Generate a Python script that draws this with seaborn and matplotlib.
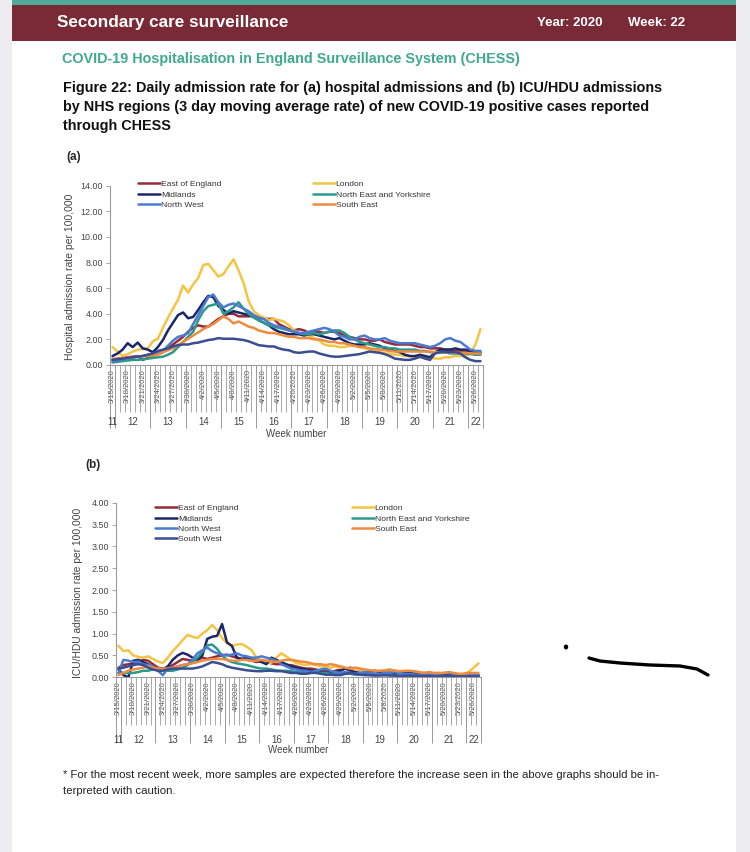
import numpy as np
import pandas as pd
import seaborn as sns
import matplotlib.pyplot as plt
from matplotlib.lines import Line2D
from matplotlib.patches import Rectangle, Circle
from matplotlib.ticker import FormatStrFormatter

W, H = 750, 852

# Data ########################################################################

dates = pd.date_range("2020-03-15", "2020-05-27", freq="D")
date_labels = [f"{d.month}/{d.day}/{d.year}" for d in dates]
week_of_day = list(dates.isocalendar().week.astype(int))

regions = ["East of England", "London", "Midlands", "North East and Yorkshire",
           "North West", "South East", "South West"]
colours = {"East of England": "#952c3a", "London": "#f5c443", "Midlands": "#1c2768",
           "North East and Yorkshire": "#2a9a8b", "North West": "#4c7ad2",
           "South East": "#ee8b3e", "South West": "#3b4d92"}

# (a) hospital admission rate per 100,000
hosp_eoe = [0.40, 0.50, 0.55, 0.60, 0.65, 0.70, 0.40, 0.55, 0.70, 0.85,
            1.00, 1.30, 1.60, 1.90, 2.20, 2.60, 2.90, 3.10, 3.00, 3.00,
            3.30, 3.60, 3.80, 4.00, 4.00, 3.80, 3.80, 3.80, 3.80, 3.70,
            3.60, 3.60, 3.60, 3.20, 3.00, 2.80, 2.70, 2.80, 2.70, 2.50,
            2.60, 2.60, 2.50, 2.60, 2.60, 2.50, 2.30, 2.20, 2.10, 2.00,
            2.00, 1.90, 1.90, 2.00, 1.80, 1.70, 1.60, 1.60, 1.60, 1.60,
            1.50, 1.40, 1.40, 1.30, 1.30, 1.30, 1.20, 1.20, 1.10, 1.10,
            1.00, 1.00, 1.00, 1.00]
hosp_lon = [1.40, 1.05, 0.70, 0.85, 1.05, 1.20, 1.25, 1.30, 1.85, 2.05,
            2.90, 3.70, 4.40, 5.10, 6.20, 5.65, 6.30, 6.80, 7.80, 7.90,
            7.40, 6.90, 7.10, 7.70, 8.25, 7.40, 6.40, 5.00, 4.20, 3.90,
            3.70, 3.50, 3.60, 3.50, 3.40, 3.10, 2.70, 2.50, 2.40, 2.30,
            2.10, 1.90, 1.60, 1.50, 1.50, 1.40, 1.40, 1.50, 1.50, 1.40,
            1.30, 1.20, 1.10, 1.00, 0.90, 0.90, 0.80, 0.80, 0.70, 0.70,
            0.60, 0.60, 0.70, 0.60, 0.50, 0.50, 0.60, 0.60, 0.70, 0.70,
            0.70, 0.90, 1.60, 2.80]
hosp_mid = [0.70, 0.90, 1.20, 1.70, 1.40, 1.75, 1.30, 1.20, 1.00, 1.40,
            1.95, 2.70, 3.30, 3.90, 4.10, 3.65, 3.75, 4.30, 4.90, 5.40,
            5.30, 4.60, 4.30, 4.00, 4.20, 4.10, 4.00, 3.90, 3.80, 3.50,
            3.30, 3.10, 2.80, 2.60, 2.50, 2.40, 2.40, 2.40, 2.30, 2.40,
            2.40, 2.30, 2.20, 2.10, 2.00, 2.10, 1.90, 1.70, 1.60, 1.60,
            1.60, 1.70, 1.60, 1.50, 1.30, 1.20, 1.10, 1.00, 0.80, 0.70,
            0.70, 0.80, 0.70, 0.60, 1.00, 1.20, 1.20, 1.20, 1.30, 1.20,
            1.20, 1.10, 1.00, 0.90]
hosp_ney = [0.20, 0.25, 0.30, 0.35, 0.40, 0.40, 0.45, 0.50, 0.55, 0.60,
            0.65, 0.80, 1.00, 1.40, 1.80, 2.20, 2.60, 3.50, 4.20, 4.60,
            4.70, 4.80, 4.00, 4.20, 4.50, 4.90, 4.40, 4.00, 3.70, 3.50,
            3.30, 3.10, 3.00, 2.90, 2.80, 2.70, 2.60, 2.50, 2.40, 2.40,
            2.50, 2.40, 2.50, 2.60, 2.70, 2.70, 2.50, 2.20, 2.00, 1.80,
            1.70, 1.60, 1.50, 1.40, 1.40, 1.30, 1.30, 1.20, 1.20, 1.20,
            1.20, 1.10, 1.10, 1.00, 1.00, 1.00, 1.00, 0.90, 0.90, 0.90,
            0.90, 0.85, 0.80, 0.80]
hosp_nw = [0.30, 0.35, 0.45, 0.55, 0.60, 0.65, 0.70, 0.80, 0.85, 0.90,
           1.10, 1.50, 1.90, 2.20, 2.30, 2.50, 3.20, 3.90, 4.60, 5.30,
           5.50, 4.90, 4.50, 4.70, 4.80, 4.60, 4.40, 4.20, 3.90, 3.70,
           3.60, 3.30, 3.10, 3.00, 2.90, 2.70, 2.60, 2.50, 2.50, 2.60,
           2.70, 2.80, 2.90, 2.80, 2.60, 2.30, 2.20, 2.00, 2.00, 2.20,
           2.30, 2.10, 2.00, 2.00, 2.10, 1.90, 1.80, 1.70, 1.70, 1.70,
           1.70, 1.60, 1.50, 1.40, 1.50, 1.70, 2.00, 2.10, 1.90, 1.80,
           1.50, 1.20, 1.10, 1.10]
hosp_se = [0.50, 0.50, 0.55, 0.55, 0.60, 0.65, 0.70, 0.70, 0.75, 0.80,
           1.00, 1.15, 1.30, 1.55, 1.80, 2.05, 2.30, 2.55, 2.80, 3.00,
           3.20, 3.50, 3.80, 3.60, 3.25, 3.40, 3.20, 3.00, 2.90, 2.70,
           2.60, 2.50, 2.50, 2.40, 2.30, 2.20, 2.20, 2.10, 2.10, 2.10,
           2.00, 2.00, 1.90, 1.80, 1.80, 1.70, 1.70, 1.60, 1.50, 1.40,
           1.40, 1.30, 1.25, 1.20, 1.15, 1.10, 1.05, 1.05, 1.05, 1.05,
           1.05, 1.05, 1.05, 1.05, 1.00, 1.00, 1.00, 1.00, 0.95, 0.95,
           0.95, 0.90, 0.90, 0.90]
hosp_sw = [0.40, 0.45, 0.50, 0.55, 0.60, 0.65, 0.70, 0.80, 0.90, 1.10,
           1.20, 1.30, 1.45, 1.55, 1.60, 1.60, 1.70, 1.75, 1.85, 1.95,
           2.00, 2.10, 2.05, 2.05, 2.05, 2.00, 1.95, 1.85, 1.70, 1.55,
           1.50, 1.45, 1.45, 1.30, 1.20, 1.15, 1.00, 0.95, 1.00, 1.05,
           1.05, 0.90, 0.80, 0.70, 0.65, 0.65, 0.70, 0.75, 0.80, 0.85,
           0.95, 1.05, 1.00, 0.95, 0.85, 0.70, 0.50, 0.45, 0.40, 0.40,
           0.50, 0.65, 0.50, 0.40, 0.90, 1.00, 1.00, 1.00, 1.00, 0.90,
           0.60, 0.40, 0.30, 0.30]

# (b) ICU/HDU admission rate per 100,000
icu_eoe = [0.22, 0.28, 0.30, 0.32, 0.35, 0.40, 0.38, 0.30, 0.22, 0.20,
           0.22, 0.28, 0.35, 0.42, 0.40, 0.38, 0.40, 0.45, 0.42, 0.45,
           0.48, 0.50, 0.52, 0.48, 0.45, 0.42, 0.40, 0.38, 0.35, 0.38,
           0.35, 0.32, 0.30, 0.30, 0.28, 0.28, 0.25, 0.22, 0.20, 0.20,
           0.18, 0.15, 0.15, 0.12, 0.15, 0.18, 0.20, 0.22, 0.20, 0.18,
           0.15, 0.15, 0.12, 0.12, 0.10, 0.12, 0.15, 0.12, 0.10, 0.10,
           0.08, 0.08, 0.10, 0.08, 0.06, 0.06, 0.05, 0.06, 0.05, 0.05,
           0.05, 0.05, 0.04, 0.04]
icu_lon = [0.72, 0.60, 0.62, 0.50, 0.47, 0.45, 0.48, 0.42, 0.36, 0.33,
           0.45, 0.60, 0.72, 0.85, 0.97, 0.93, 0.90, 1.00, 1.08, 1.20,
           1.08, 0.90, 0.78, 0.72, 0.75, 0.76, 0.70, 0.62, 0.45, 0.38,
           0.35, 0.33, 0.45, 0.55, 0.48, 0.40, 0.33, 0.30, 0.28, 0.30,
           0.28, 0.25, 0.25, 0.22, 0.25, 0.22, 0.20, 0.20, 0.18, 0.18,
           0.15, 0.15, 0.12, 0.12, 0.15, 0.12, 0.10, 0.10, 0.12, 0.10,
           0.10, 0.08, 0.10, 0.08, 0.08, 0.10, 0.08, 0.08, 0.06, 0.06,
           0.08, 0.12, 0.22, 0.32]
icu_mid = [0.18, 0.05, 0.00, 0.38, 0.40, 0.35, 0.30, 0.22, 0.20, 0.18,
           0.25, 0.40, 0.50, 0.56, 0.52, 0.45, 0.40, 0.50, 0.88, 0.93,
           0.95, 1.22, 0.80, 0.72, 0.45, 0.42, 0.45, 0.40, 0.38, 0.35,
           0.30, 0.45, 0.40, 0.35, 0.30, 0.25, 0.22, 0.20, 0.18, 0.15,
           0.15, 0.12, 0.10, 0.10, 0.12, 0.15, 0.20, 0.15, 0.12, 0.10,
           0.10, 0.12, 0.15, 0.12, 0.10, 0.10, 0.08, 0.10, 0.12, 0.10,
           0.08, 0.06, 0.05, 0.05, 0.05, 0.06, 0.05, 0.05, 0.04, 0.04,
           0.04, 0.04, 0.05, 0.05]
icu_ney = [0.10, 0.10, 0.10, 0.10, 0.12, 0.15, 0.15, 0.18, 0.20, 0.18,
           0.15, 0.15, 0.18, 0.22, 0.28, 0.35, 0.45, 0.58, 0.73, 0.75,
           0.65, 0.50, 0.40, 0.35, 0.32, 0.30, 0.28, 0.25, 0.22, 0.20,
           0.20, 0.18, 0.16, 0.15, 0.15, 0.14, 0.12, 0.12, 0.10, 0.10,
           0.12, 0.10, 0.10, 0.08, 0.08, 0.10, 0.08, 0.08, 0.06, 0.06,
           0.06, 0.05, 0.05, 0.06, 0.05, 0.05, 0.04, 0.04, 0.05, 0.04,
           0.04, 0.04, 0.03, 0.03, 0.04, 0.03, 0.03, 0.03, 0.03, 0.03,
           0.03, 0.03, 0.03, 0.03]
icu_nw = [0.10, 0.40, 0.38, 0.35, 0.36, 0.30, 0.28, 0.25, 0.15, 0.05,
          0.20, 0.22, 0.25, 0.28, 0.30, 0.40, 0.55, 0.62, 0.68, 0.60,
          0.55, 0.52, 0.50, 0.52, 0.55, 0.50, 0.48, 0.45, 0.45, 0.48,
          0.45, 0.42, 0.38, 0.30, 0.25, 0.20, 0.18, 0.15, 0.15, 0.12,
          0.15, 0.18, 0.20, 0.15, 0.12, 0.10, 0.12, 0.10, 0.08, 0.10,
          0.12, 0.10, 0.08, 0.08, 0.10, 0.10, 0.12, 0.10, 0.08, 0.08,
          0.06, 0.06, 0.08, 0.06, 0.06, 0.08, 0.10, 0.10, 0.08, 0.06,
          0.05, 0.05, 0.05, 0.05]
icu_se = [0.05, 0.10, 0.15, 0.18, 0.20, 0.22, 0.25, 0.22, 0.20, 0.20,
          0.20, 0.22, 0.25, 0.28, 0.30, 0.32, 0.35, 0.38, 0.40, 0.42,
          0.42, 0.42, 0.40, 0.38, 0.38, 0.40, 0.40, 0.38, 0.38, 0.40,
          0.38, 0.36, 0.35, 0.38, 0.40, 0.40, 0.38, 0.36, 0.35, 0.32,
          0.30, 0.30, 0.28, 0.30, 0.28, 0.25, 0.22, 0.20, 0.22, 0.20,
          0.18, 0.16, 0.15, 0.15, 0.16, 0.18, 0.15, 0.14, 0.15, 0.15,
          0.14, 0.12, 0.10, 0.12, 0.10, 0.10, 0.10, 0.12, 0.10, 0.08,
          0.08, 0.10, 0.10, 0.10]
icu_sw = [0.20, 0.22, 0.25, 0.28, 0.30, 0.28, 0.22, 0.18, 0.15, 0.15,
          0.18, 0.20, 0.20, 0.20, 0.20, 0.20, 0.22, 0.25, 0.30, 0.35,
          0.33, 0.30, 0.25, 0.22, 0.20, 0.18, 0.16, 0.15, 0.14, 0.14,
          0.15, 0.15, 0.14, 0.14, 0.12, 0.10, 0.10, 0.08, 0.08, 0.10,
          0.10, 0.08, 0.06, 0.06, 0.05, 0.05, 0.08, 0.10, 0.08, 0.06,
          0.05, 0.05, 0.04, 0.04, 0.05, 0.04, 0.04, 0.03, 0.03, 0.04,
          0.03, 0.03, 0.03, 0.03, 0.02, 0.02, 0.03, 0.03, 0.02, 0.02,
          0.02, 0.02, 0.02, 0.02]

hosp = dict(zip(regions, [hosp_eoe, hosp_lon, hosp_mid, hosp_ney, hosp_nw, hosp_se, hosp_sw]))
icu = dict(zip(regions, [icu_eoe, icu_lon, icu_mid, icu_ney, icu_nw, icu_se, icu_sw]))


def to_long(series):
    df = pd.DataFrame(series)
    df["day"] = np.arange(len(dates))
    return df.melt(id_vars="day", var_name="region", value_name="rate")


# Page ########################################################################

sns.set_theme(style="white")
plt.rcParams["font.family"] = ["Liberation Sans", "DejaVu Sans"]

fig = plt.figure(figsize=(W / 100, H / 100), dpi=100)
fig.patch.set_facecolor("#ececf1")


def fx(x):
    return x / W


def fy(y):
    return 1 - y / H


fig.add_artist(Rectangle((fx(12), 0), fx(736 - 12), 1, transform=fig.transFigure,
                         facecolor="white", edgecolor="none", zorder=0))
fig.add_artist(Rectangle((fx(12), fy(5)), fx(736 - 12), 5 / H, transform=fig.transFigure,
                         facecolor="#4fab98", edgecolor="none", zorder=1))
fig.add_artist(Rectangle((fx(12), fy(41)), fx(736 - 12), 36 / H, transform=fig.transFigure,
                         facecolor="#7a2a36", edgecolor="none", zorder=1))

fig.text(fx(57), fy(22), "Secondary care surveillance", color="white", fontsize=12.3,
         fontweight="bold", va="center")
fig.text(fx(537), fy(23), "Year: 2020", color="white", fontsize=9.5, fontweight="bold", va="center")
fig.text(fx(628), fy(23), "Week: 22", color="white", fontsize=9.5, fontweight="bold", va="center")
fig.text(fx(62), fy(59), "COVID-19 Hospitalisation in England Surveillance System (CHESS)",
         color="#3fa98f", fontsize=10.4, fontweight="bold", va="center")
caption = ["Figure 22: Daily admission rate for (a) hospital admissions and (b) ICU/HDU admissions",
           "by NHS regions (3 day moving average rate) of new COVID-19 positive cases reported",
           "through CHESS"]
for k, line in enumerate(caption):
    fig.text(fx(63), fy(88 + 19 * k), line, color="#111111", fontsize=10.4,
             fontweight="bold", va="center")

fig.text(fx(66), fy(157), "(a)", fontsize=8.5, fontweight="bold", va="center")
fig.text(fx(85), fy(465), "(b)", fontsize=8.5, fontweight="bold", va="center")

fig.text(fx(63), fy(775), "* For the most recent week, more samples are expected therefore the "
         "increase seen in the above graphs should be in-", fontsize=8.2, color="#222222", va="center")
fig.text(fx(63), fy(791), "terpreted with caution.", fontsize=8.2, color="#222222", va="center")


# Panels ######################################################################

def panel(ax, series, ymax, ystep, legend_regions, anchor, colspace,
          lbl_px, wkline_px, wktext_px, wn_px):
    sns.lineplot(data=to_long(series), x="day", y="rate", hue="region", hue_order=regions,
                 palette=colours, linewidth=1.8, ax=ax, legend=False)
    n = len(dates)
    ax.set_xlim(-0.5, n - 0.5)
    ax.set_ylim(0, ymax)
    ax.set_yticks(np.arange(0, ymax + 0.001, ystep))
    ax.yaxis.set_major_formatter(FormatStrFormatter("%.2f"))
    ax.set_xticks(range(0, n, 3))
    ax.set_xticklabels(date_labels[::3], rotation=90, fontsize=5.5, color="#555555")
    ax.tick_params(axis="x", length=0, pad=3)
    ax.tick_params(axis="y", left=True, length=3, width=0.6, color="#999999",
                   labelsize=6.4, labelcolor="#444444", pad=2)
    ax.set_xlabel("")
    ax.set_ylabel("")
    ax.set_facecolor("none")
    for s in ["top", "right"]:
        ax.spines[s].set_visible(False)
    for s in ["left", "bottom"]:
        ax.spines[s].set_color("#9a9a9a")
        ax.spines[s].set_linewidth(0.8)

    hpx = ax.get_position().height * H
    trans = ax.get_xaxis_transform()
    ax.vlines(np.arange(n + 1) - 0.5, -lbl_px / hpx, 0, transform=trans,
              colors="#9a9a9a", linewidth=0.6, clip_on=False)
    starts = [i for i in range(n) if i == 0 or week_of_day[i] != week_of_day[i - 1]]
    ends = starts[1:] + [n]
    ax.vlines([s - 0.5 for s in starts] + [n - 0.5], -wkline_px / hpx, 0, transform=trans,
              colors="#9a9a9a", linewidth=0.7, clip_on=False)
    for s, e in zip(starts, ends):
        ax.text((s + e - 1) / 2, -wktext_px / hpx, str(week_of_day[s]), transform=trans,
                ha="center", va="center", fontsize=7, color="#444444")
    ax.text(0.5, -wn_px / hpx, "Week number", transform=ax.transAxes,
            ha="center", va="center", fontsize=7, color="#444444")

    handles = [Line2D([], [], color=colours[r], linewidth=1.8) for r in legend_regions]
    leg = ax.legend(handles, legend_regions, ncol=2, loc="upper left", bbox_to_anchor=anchor,
                    frameon=False, fontsize=6.1, handlelength=2.6, handletextpad=0.1,
                    columnspacing=colspace, labelspacing=0.28, borderpad=0, borderaxespad=0)
    for t in leg.get_texts():
        t.set_color("#333333")


ax_a = fig.add_axes([fx(110), fy(365), fx(483 - 110), (365 - 185.7) / H])
panel(ax_a, hosp, 14, 2,
      ["East of England", "Midlands", "North West", "London", "North East and Yorkshire", "South East"],
      (0.075, 1.03), 10.8, 47, 63, 57, 69)
fig.text(fx(70), fy(277), "Hospital admission rate per 100,000", rotation=90,
         ha="center", va="center", fontsize=7.5, color="#444444")

ax_b = fig.add_axes([fx(116), fy(677.3), fx(481 - 116), (677.3 - 502.7) / H])
panel(ax_b, icu, 4, 0.5,
      ["East of England", "Midlands", "North West", "South West",
       "London", "North East and Yorkshire", "South East"],
      (0.107, 0.99), 13.4, 48, 66, 63, 73)
fig.text(fx(78), fy(593), "ICU/HDU admission rate per 100,000", rotation=90,
         ha="center", va="center", fontsize=7.4, color="#444444")

# pen marks on the screenshot
fig.add_artist(Circle((fx(566), fy(647)), 2.2 / W, transform=fig.transFigure,
                      facecolor="black", edgecolor="none"))
pen_x = [589, 600, 620, 650, 680, 697, 708]
pen_y = [658, 661, 663, 665, 666, 669, 675]
fig.add_artist(Line2D([fx(v) for v in pen_x], [fy(v) for v in pen_y], transform=fig.transFigure,
                      color="black", linewidth=2.4, solid_capstyle="round"))

fig.savefig("out.png", dpi=100)
